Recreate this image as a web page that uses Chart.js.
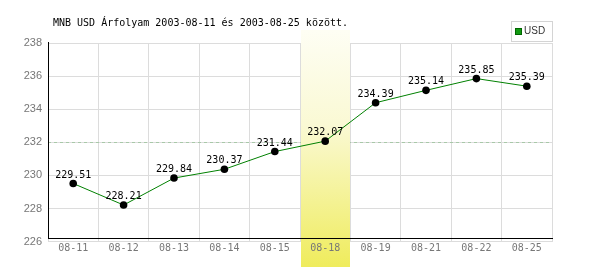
<!DOCTYPE html>
<html>
<head>
<meta charset="utf-8">
<script src="https://cdn.jsdelivr.net/npm/chart.js@4/dist/chart.umd.min.js"></script>
<style>
html,body{margin:0;padding:0;background:#fff;}
#wrap{width:600px;height:270px;}
</style>
</head>
<body>
<div id="wrap"><canvas id="c" width="600" height="270"></canvas></div>
<script>
const categories = ['08-11','08-12','08-13','08-14','08-15','08-18','08-19','08-21','08-22','08-25'];
const usdValues = [229.51, 228.21, 229.84, 230.37, 231.44, 232.07, 234.39, 235.14, 235.85, 235.39];
const yTicks = [226, 228, 230, 232, 234, 236, 238];
const titleText = 'MNB USD Árfolyam 2003-08-11 és 2003-08-25 között.';
const seriesName = 'USD';
const highlightIndex = 5;
const referenceValue = 232;

const MONO = '"DejaVu Sans Mono", "Liberation Mono", monospace';
const SANS = '"Liberation Sans", Arial, sans-serif';

const decor = {
  id: 'decor',
  beforeDatasetsDraw(chart) {
    const ctx = chart.ctx, a = chart.chartArea;
    const y = chart.scales.y;
    ctx.save();
    // dashed reference line
    const ry = Math.round(y.getPixelForValue(referenceValue)) + 0.5;
    ctx.strokeStyle = '#a8c8a8';
    ctx.lineWidth = 1;
    ctx.setLineDash([3, 3]);
    ctx.beginPath(); ctx.moveTo(a.left, ry); ctx.lineTo(a.right, ry); ctx.stroke();
    ctx.setLineDash([]);
    // highlight band
    const cw = (a.right - a.left) / categories.length;
    const bx = a.left + cw * highlightIndex;
    const top = 30, bot = 267;
    const g = ctx.createLinearGradient(0, top, 0, bot);
    g.addColorStop(0, '#fefef4');
    g.addColorStop(0.4, '#faf9d4');
    g.addColorStop(1, '#efec5c');
    ctx.fillStyle = g;
    ctx.fillRect(Math.round(bx) + 1, top, Math.round(cw) - 1, bot - top);
    // axes lines
    ctx.strokeStyle = '#000';
    ctx.lineWidth = 1;
    const by = Math.round(a.bottom) - 3.5;
    ctx.beginPath(); ctx.moveTo(a.left, by); ctx.lineTo(a.right + 1, by); ctx.stroke();
    const lx = Math.round(a.left) + 0.5;
    ctx.beginPath(); ctx.moveTo(lx, a.top - 1); ctx.lineTo(lx, by); ctx.stroke();
    ctx.restore();
  },
  afterDatasetsDraw(chart) {
    const ctx = chart.ctx;
    const meta = chart.getDatasetMeta(0);
    ctx.save();
    ctx.font = '10px ' + MONO;
    ctx.fillStyle = '#000';
    ctx.textAlign = 'center';
    ctx.textBaseline = 'alphabetic';
    meta.data.forEach((pt, i) => {
      ctx.fillText(usdValues[i].toFixed(2), pt.x, pt.y - 6);
    });
    ctx.restore();
  },
  afterDraw(chart) {
    const ctx = chart.ctx;
    ctx.save();
    // title
    ctx.font = '10px ' + MONO;
    ctx.fillStyle = '#000';
    ctx.textAlign = 'left';
    ctx.textBaseline = 'middle';
    ctx.fillText(titleText, 53, 23);
    // legend box
    ctx.strokeStyle = '#d4d4d4';
    ctx.lineWidth = 1;
    ctx.strokeRect(511.5, 21.5, 41, 20);
    ctx.fillStyle = '#006600';
    ctx.fillRect(515, 28, 7, 7);
    ctx.fillStyle = '#119911';
    ctx.fillRect(516, 29, 5, 5);
    ctx.font = '10px ' + SANS;
    ctx.fillStyle = '#333';
    ctx.fillText(seriesName, 524, 31.5);
    ctx.restore();
  }
};

new Chart(document.getElementById('c'), {
  type: 'line',
  data: {
    labels: categories,
    datasets: [{
      label: seriesName,
      data: usdValues,
      borderColor: '#008000',
      borderWidth: 1,
      pointBackgroundColor: '#000',
      pointBorderColor: '#000',
      pointBorderWidth: 0,
      pointRadius: 3.8,
      tension: 0,
      clip: false
    }]
  },
  options: {
    responsive: false,
    animation: false,
    devicePixelRatio: 1,
    layout: { padding: { top: 43, right: 48, left: 0, bottom: 0 } },
    plugins: { legend: { display: false }, title: { display: false }, tooltip: { enabled: false } },
    scales: {
      x: {
        offset: true,
        grid: { offset: true, color: '#dcdcdc', drawTicks: false },
        border: { display: false },
        ticks: { z: 1, padding: 1, color: '#777', font: { family: MONO, size: 10 }, maxRotation: 0, autoSkip: false },
        afterFit(s) { s.height = 28.4; }
      },
      y: {
        min: yTicks[0],
        max: yTicks[yTicks.length - 1],
        afterBuildTicks(s) { s.ticks = yTicks.map(v => ({ value: v })); },
        grid: { color: '#dcdcdc', drawTicks: false },
        border: { display: false },
        ticks: { z: 1, padding: 6, color: '#777', font: { family: SANS, size: 11 } },
        afterFit(s) { s.width = 48; }
      }
    }
  },
  plugins: [decor]
});
</script>
</body>
</html>
